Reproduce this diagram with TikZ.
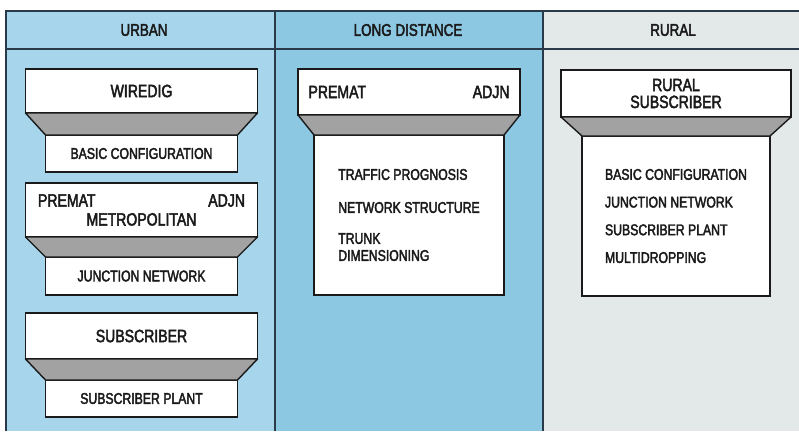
\documentclass[tikz,border=0pt]{standalone}
\usepackage{fontspec}
\setmainfont{Liberation Sans}[FakeStretch=0.79, FakeBold=2.5]
\usetikzlibrary{positioning}
\definecolor{plink}{HTML}{1A1A1A}
\definecolor{plframe}{HTML}{2B3A48}
\definecolor{plurban}{HTML}{A7D5EC}
\definecolor{plld}{HTML}{8DC8E3}
\definecolor{plrural}{HTML}{E3E8E8}
\definecolor{plgray}{HTML}{A2A2A2}
\tikzset{
  pl head/.style={font=\fontsize{17}{17}\selectfont, text=plink, inner sep=0pt},
  pl top/.style={draw=plink, line width=1.8pt, fill=white, inner sep=0pt, outer sep=0pt,
    font=\fontsize{17.8}{17}\selectfont, text=plink, align=center},
  pl sub/.style={draw=plink, line width=1.4pt, fill=white, inner sep=0pt, outer sep=0pt,
    font=\fontsize{15.5}{17}\selectfont, text=plink, align=center},
  pl list/.style={pl sub, align=left},
  pl trap/.style={draw=plink, line width=1.4pt, fill=plgray, line join=round},
  pl rule/.style={draw=plframe, line width=1.2pt}
}

\begin{document}
\begin{tikzpicture}[x=1pt, y=-1pt]
  \useasboundingbox (0,0) rectangle (799,431);
  % column panels
  \fill[plurban] (6,11) rectangle (275,431);
  \fill[plld] (275,11) rectangle (543,431);
  \fill[plrural] (543,11) rectangle (799,431);
  \draw[pl rule] (6,431) -- (6,11) -- (799,11);
  \draw[pl rule] (6,49) -- (799,49);
  \draw[pl rule] (275,11) -- (275,431);
  \draw[pl rule] (543,11) -- (543,431);
  \node[pl head] (hurban) at (144,30) {URBAN};
  \node[pl head] (hlong) at (408,30) {LONG DISTANCE};
  \node[pl head] (hrural) at (673,30) {RURAL};

  % urban
  \node[pl top, minimum width=232pt, minimum height=44pt] (wiredig) at (141.5,91) {WIREDIG};
  \node[pl sub, minimum width=192pt, minimum height=37pt, below=22pt of wiredig] (basic) {BASIC CONFIGURATION};
  \draw[pl trap] (wiredig.south west) -- (wiredig.south east) -- (basic.north east) -- (basic.north west) -- cycle;

  \node[pl top, minimum width=232pt, minimum height=54pt, text width=207pt] (metro) at (141.5,210)
    {PREMAT\hfill ADJN\\[2pt] METROPOLITAN};
  \node[pl sub, minimum width=192pt, minimum height=38pt, below=20pt of metro] (junction) {JUNCTION NETWORK};
  \draw[pl trap] (metro.south west) -- (metro.south east) -- (junction.north east) -- (junction.north west) -- cycle;

  \node[pl top, minimum width=232pt, minimum height=46pt] (subscr) at (141.5,336) {SUBSCRIBER};
  \node[pl sub, minimum width=192pt, minimum height=37pt, below=21pt of subscr] (plant) {SUBSCRIBER PLANT};
  \draw[pl trap] (subscr.south west) -- (subscr.south east) -- (plant.north east) -- (plant.north west) -- cycle;

  % long distance
  \node[pl top, minimum width=222pt, minimum height=46pt, text width=201pt] (premat) at (409,92) {PREMAT\hfill ADJN};
  \node[pl list, minimum width=190pt, minimum height=160pt, below=20pt of premat] (ldlist)
    {TRAFFIC PROGNOSIS\\[16pt] NETWORK STRUCTURE\\[14pt] TRUNK\\ DIMENSIONING};
  \draw[pl trap] (premat.south west) -- (premat.south east) -- (ldlist.north east) -- (ldlist.north west) -- cycle;

  % rural
  \node[pl top, minimum width=230pt, minimum height=47pt] (rsub) at (676,93.5) {RURAL\\ SUBSCRIBER};
  \node[pl list, minimum width=188pt, minimum height=160pt, below=19pt of rsub] (rlist)
    {BASIC CONFIGURATION\\[10.7pt] JUNCTION NETWORK\\[10.7pt] SUBSCRIBER PLANT\\[10.7pt] MULTIDROPPING};
  \draw[pl trap] (rsub.south west) -- (rsub.south east) -- (rlist.north east) -- (rlist.north west) -- cycle;
\end{tikzpicture}
\end{document}
